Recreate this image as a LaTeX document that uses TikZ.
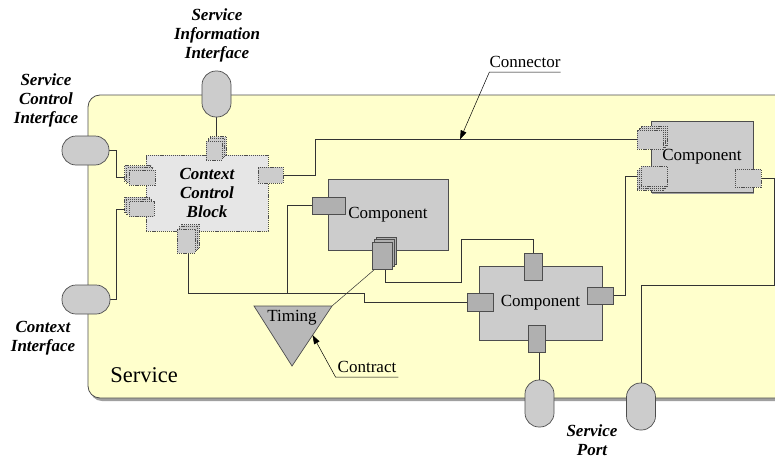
\documentclass[tikz,border=0pt]{standalone}
\usepackage{fontspec}
\setmainfont{Liberation Serif}
\usetikzlibrary{calc,arrows.meta}
\definecolor{svcyellow}{HTML}{FFFFCC}
\definecolor{compgray}{HTML}{CCCCCC}
\definecolor{ccbgray}{HTML}{E6E6E6}
\definecolor{portdark}{HTML}{B0B0B0}
\definecolor{tringray}{HTML}{B8B8B8}
\definecolor{edgegray}{HTML}{4D4D4D}
\definecolor{linegray}{HTML}{333333}
\definecolor{shadowgray}{HTML}{A0A0A0}
\pgfdeclarelayer{svclayer}
\pgfdeclarelayer{wirelayer}
\pgfsetlayers{svclayer,wirelayer,main}
\tikzset{
  wire/.style={draw=linegray, line width=0.7pt},
  comp/.style={draw=edgegray, fill=compgray, line width=0.8pt, inner sep=0, font=\fontsize{17}{20}\selectfont},
  ccbbox/.style={draw=edgegray, fill=ccbgray, line width=0.7pt, dash pattern=on 1.2pt off 0.9pt, font=\fontsize{17}{19}\selectfont\bfseries\itshape, align=center, inner sep=0},
  portsolid/.style={draw=edgegray, fill=portdark, line width=0.7pt, inner sep=0},
  portdash/.style={draw=edgegray, fill=compgray, line width=0.7pt, dash pattern=on 1.2pt off 0.9pt, inner sep=0},
  iface/.style={draw=edgegray, fill=compgray, line width=0.7pt, inner sep=0},
  bilabel/.style={font=\fontsize{17}{19}\selectfont\bfseries\itshape, align=center, inner sep=0},
  txt/.style={font=\fontsize{17}{20}\selectfont, inner sep=0},
  leader/.style={draw=black, line width=0.5pt, -{Triangle[length=9pt,width=6pt]}},
}
\newcommand{\stackport}[7]{%
  \node[#7, minimum width=#3, minimum height=#4] (#1-b2) at ($(#2)+2*(#5,#6)$) {};
  \node[#7, minimum width=#3, minimum height=#4] (#1-b1) at ($(#2)+(#5,#6)$) {};
  \node[#7, minimum width=#3, minimum height=#4] (#1) at (#2) {};
}
\begin{document}
\begin{tikzpicture}[x=1pt,y=-1pt]
\useasboundingbox (0,0) rectangle (775,460);
\clip (0,0) rectangle (775,460);
% service box
\begin{pgfonlayer}{svclayer}
\fill[shadowgray, rounded corners=12pt] (90,98) rectangle (800,401);
\draw[edgegray, fill=svcyellow, line width=0.8pt, rounded corners=12pt] (88,95) rectangle (800,398);
\end{pgfonlayer}
\node[font=\fontsize{22.5}{26}\selectfont, inner sep=0] (svcl) at (144,375) {Service};

% interfaces
\node[iface, rounded corners=14pt, minimum width=47pt, minimum height=29pt] (sci) at (85.5,150.5) {};
\node[iface, rounded corners=14pt, minimum width=29pt, minimum height=46pt] (sii) at (216.5,94) {};
\node[iface, rounded corners=14pt, minimum width=48pt, minimum height=29pt] (ci) at (86,299.5) {};
\node[iface, rounded corners=14pt, minimum width=29pt, minimum height=47pt] (sp1) at (539.5,403.5) {};
\node[iface, rounded corners=14pt, minimum width=29pt, minimum height=47pt] (sp2) at (641,406.5) {};

% labels
\node[bilabel] (siil) at (217,35.5) {Service\\Information\\Interface};
\node[bilabel] (scil) at (46,100) {Service\\Control\\Interface};
\node[bilabel] (cil) at (43,338) {Context\\Interface};
\node[bilabel] (spl) at (592,440.5) {Service\\Port};

% helper coordinates
\coordinate (j1) at (287,293);
\coordinate (j2) at (364,293);
\coordinate (k1) at (461,282);
\coordinate (k2) at (461,239);
\coordinate (k3) at (641,285);
\coordinate (cpt) at (460,139.5);
\coordinate (t1) at (254,306);
\coordinate (t2) at (332,306);
\coordinate (t3) at (292,366);
\coordinate (ctip) at (312.5,335);

% components (boxes)
\node[ccbbox, minimum width=122pt, minimum height=76pt] (ccb) at (207,193) {Context\\Control\\Block};
\node[comp, minimum width=120pt, minimum height=71pt] (mc) at (388,214.5) {Component};
\node[comp, minimum width=123pt, minimum height=74pt] (c2) at (540.5,303) {Component};
\node[comp, minimum width=102pt, minimum height=71pt] (c3) at (702,156.5) {Component};

% ports
\stackport{sts}{214,150.5}{16pt}{19pt}{2.2}{-2.2}{portdash}
\stackport{lts}{142,177.5}{26pt}{15pt}{-2.2}{-2.2}{portdash}
\stackport{lbs}{141.5,209}{25pt}{15pt}{-2.2}{-2.2}{portdash}
\node[portdash, minimum width=25pt, minimum height=16pt] (rp) at (270.5,175) {};
\stackport{cbs}{186,241}{18pt}{24pt}{2.2}{-2.2}{portdash}
\node[portsolid, minimum width=33pt, minimum height=17pt] (mlp) at (328.5,205.5) {};
\stackport{mbs}{382,255.5}{20pt}{27pt}{2.2}{-2.2}{portsolid}
\node[portsolid, minimum width=18pt, minimum height=27pt] (c2t) at (533,266.5) {};
\node[portsolid, minimum width=26pt, minimum height=18pt] (c2l) at (480,302) {};
\node[portsolid, minimum width=26pt, minimum height=17pt] (c2r) at (600,295.5) {};
\node[portsolid, minimum width=17pt, minimum height=27pt] (c2b) at (536.5,338.5) {};
\stackport{trs1}{650,139.5}{26pt}{19pt}{2}{-2}{portdash}
\stackport{trs2}{654,176}{26pt}{20pt}{-2}{2}{portdash}
\node[portdash, minimum width=26pt, minimum height=18pt] (c3r) at (748,178) {};

% wires (behind boxes)
\begin{pgfonlayer}{wirelayer}
\fill[shadowgray] ([xshift=1pt]c3.south west) rectangle ([xshift=1pt,yshift=-2pt]c3.south east);
\draw[wire] (sci.east) -| ([xshift=-12pt]lts.west) -- (lts.west);
\draw[wire] (ci.east) -| ([xshift=-12pt]lbs.west) -- (lbs.west);
\draw[wire] (sii.south) -- (sii.south |- sts.north);
\draw[wire] (rp.east) -- ++(32pt,0) |- (trs1.west);
\draw[wire] (c2r.east) -- ++(12pt,0) |- (trs2.west);
\draw[wire] (c3r.east) -- ++(13pt,0) |- (k3) -- (sp2.north);
\draw[wire] (sp1.north) -- (sp1.north |- c2b.south);
\draw[wire] ([xshift=3pt]mbs.south) |- (k1) -- (k2) -| (c2t.north);
\draw[wire] ([xshift=2pt]cbs.south) |- (j2) |- (c2l.west);
\draw[wire] (mlp.west) -| (j1);
\draw[wire, line width=0.5pt] (t2) -- ([xshift=3pt]mbs.south west);
\end{pgfonlayer}

% timing
\draw[fill=tringray, draw=edgegray, line width=0.7pt] (t1) -- (t2) -- (t3) -- cycle;
\node[txt] (timing) at (292,318) {Timing};

% labels with leaders
\node[txt, anchor=base] (conn) at (525,67) {Connector};
\coordinate (cu2) at ([yshift=-5pt]conn.base east);
\coordinate (cl2) at ([yshift=-5pt]conn.base west);
\draw[leader] (cu2) -- (cl2) -- (cpt);
\node[txt, anchor=base] (contract) at (367,372) {Contract};
\coordinate (cu) at ([xshift=2pt,yshift=-5pt]contract.base east);
\coordinate (cl) at ([xshift=-2pt,yshift=-5pt]contract.base west);
\draw[leader] (cu) -- (cl) -- (ctip);
\end{tikzpicture}
\end{document}
